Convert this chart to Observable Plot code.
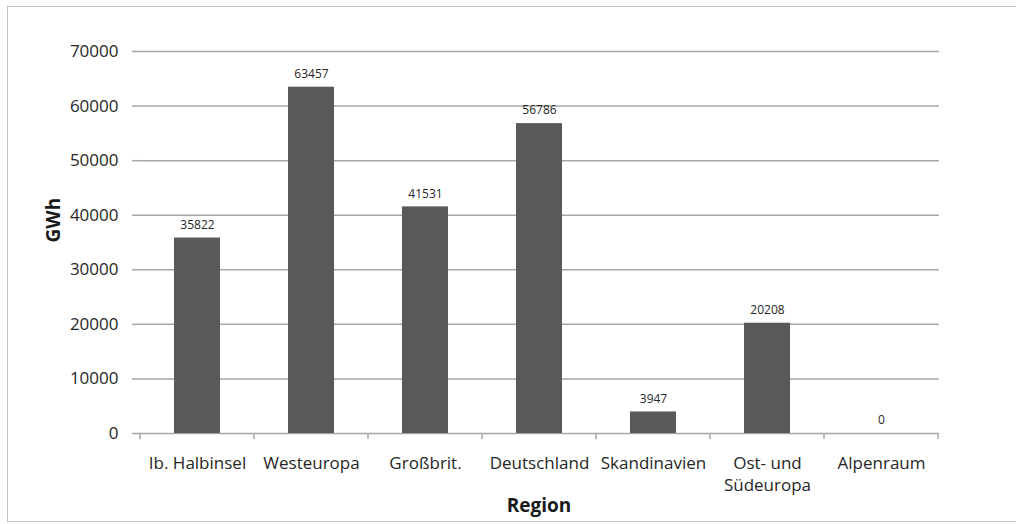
<!DOCTYPE html>
<html>
<head>
<meta charset="utf-8">
<script src="https://cdn.jsdelivr.net/npm/d3@7"></script>
<script src="https://cdn.jsdelivr.net/npm/@observablehq/plot@0.6"></script>
<style>
  body { margin: 0; background: #fff; }
  #wrap { position: relative; width: 1016px; height: 524px; overflow: hidden; }
  #frame { position: absolute; left: 7px; top: 6px; width: 1100px; height: 516px; border: 1.5px solid #c4c4c4; box-sizing: border-box; pointer-events: none; }
  svg { position: absolute; left: 0; top: 0; }
</style>
</head>
<body>
<div id="wrap"><div id="frame"></div></div>
<script>
const categories = ["Ib. Halbinsel", "Westeuropa", "Großbrit.", "Deutschland", "Skandinavien", "Ost- und Südeuropa", "Alpenraum"];
const values = [35822, 63457, 41531, 56786, 3947, 20208, 0];
const tickLabels = ["Ib. Halbinsel", "Westeuropa", "Großbrit.", "Deutschland", "Skandinavien", "Ost- und\nSüdeuropa", "Alpenraum"];
const yTicks = [0, 10000, 20000, 30000, 40000, 50000, 60000, 70000];
const yTitle = "GWh";
const xTitle = "Region";

const data = categories.map((c, i) => ({region: c, value: values[i]}));
const labelOf = new Map(categories.map((c, i) => [c, tickLabels[i]]));

// tick marks between categories on the x axis
function bandTicks(index, scales, values, dimensions) {
  const x = scales.x;
  const step = x.step();
  const pos = categories.map(c => x(c) - (step - x.bandwidth()) / 2);
  pos.push(pos[pos.length - 1] + step);
  const y0 = dimensions.height - dimensions.marginBottom;
  const g = d3.create("svg:g");
  g.selectAll("line").data(pos).join("line")
    .attr("x1", d => d).attr("x2", d => d)
    .attr("y1", y0).attr("y2", y0 + 6)
    .attr("stroke", "#a6a6a6").attr("stroke-width", 1.5);
  return g.node();
}

const chart = Plot.plot({
  width: 1016,
  height: 524,
  marginLeft: 138,
  marginRight: 77,
  marginTop: 51,
  marginBottom: 91,
  style: {fontFamily: "'Open Sans', sans-serif", color: "#262626", background: "transparent"},
  x: {domain: categories, paddingInner: 0.6, paddingOuter: 0.3},
  y: {domain: [0, 70000]},
  marks: [
    Plot.ruleY(yTicks, {stroke: "#a6a6a6", strokeWidth: 1.5}),
    Plot.ruleX([0], {frameAnchor: "left", y1: 0, y2: 70000, stroke: "#a6a6a6", strokeWidth: 1.5}),
    Plot.barY(data, {x: "region", y: "value", fill: "#595959"}),
    Plot.text(data, {x: "region", y: "value", text: d => String(d.value), dy: -13, fontSize: 12, fill: "#262626"}),
    Plot.axisY({ticks: yTicks, tickSize: 6, tickPadding: 14, tickFormat: d => String(d), fontSize: 17, stroke: "#a6a6a6", strokeWidth: 1.5, label: null}),
    Plot.axisX({tickSize: 0, tickPadding: 20, tickFormat: d => labelOf.get(d), fontSize: 17, lineHeight: 1.3, label: null}),
    bandTicks,
    Plot.text([yTitle], {frameAnchor: "left", dx: -85, rotate: -90, fontSize: 19, fontWeight: "bold", fill: "#1a1a1a"}),
    Plot.text([xTitle], {frameAnchor: "bottom", dy: 78, fontSize: 19, fontWeight: "bold", fill: "#1a1a1a"})
  ]
});
document.getElementById("wrap").appendChild(chart);
</script>
</body>
</html>
